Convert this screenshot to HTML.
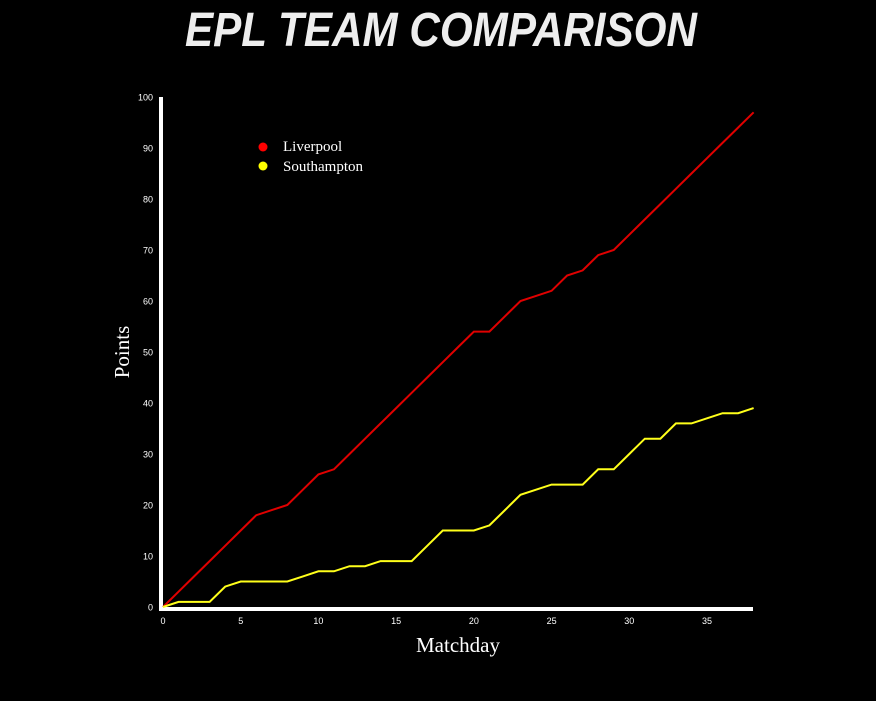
<!DOCTYPE html>
<html><head><meta charset="utf-8"><style>
html,body{margin:0;padding:0;background:#000;width:876px;height:701px;overflow:hidden}
svg{display:block}
</style></head><body>
<svg id="chart" width="876" height="701" xmlns="http://www.w3.org/2000/svg">
<text x="441" y="46" text-anchor="middle" fill="#eeeeee" font-family="Liberation Sans, sans-serif" font-weight="bold" font-style="italic" font-size="48" textLength="512" lengthAdjust="spacingAndGlyphs">EPL TEAM COMPARISON</text>
<g id="axes"></g>
<g id="lines"></g>
<g>
<circle cx="263" cy="147" r="4.5" fill="#ff0000"/>
<text x="283" y="151" fill="#fff" font-family="Liberation Serif, serif" font-size="15">Liverpool</text>
<circle cx="263" cy="166" r="4.5" fill="#ffff00"/>
<text x="283" y="171" fill="#fff" font-family="Liberation Serif, serif" font-size="15">Southampton</text>
</g>
<text transform="translate(129,352) rotate(-90)" text-anchor="middle" fill="#fff" font-family="Liberation Serif, serif" font-size="21">Points</text>
<text x="458" y="652" text-anchor="middle" fill="#fff" font-family="Liberation Serif, serif" font-size="21">Matchday</text>
</svg>
<script>
const matchdays = Array.from({length:39},(_,i)=>i);
const liverpool = [0,3,6,9,12,15,18,19,20,23,26,27,30,33,36,39,42,45,48,51,54,54,57,60,61,62,65,66,69,70,73,76,79,82,85,88,91,94,97];
const southampton = [0,1,1,1,4,5,5,5,5,6,7,7,8,8,9,9,9,12,15,15,15,16,19,22,23,24,24,24,27,27,30,33,33,36,36,37,38,38,39];
const xTicks = [0,5,10,15,20,25,30,35];
const yTicks = [0,10,20,30,40,50,60,70,80,90,100];
const NS="http://www.w3.org/2000/svg";
const x = v => 163 + v*(707-163)/35;
const y = v => 607 - v*5.1;
const axes=document.getElementById('axes'), lines=document.getElementById('lines');
function mk(tag,attrs,parent){const e=document.createElementNS(NS,tag);for(const k in attrs)e.setAttribute(k,attrs[k]);parent.appendChild(e);return e;}
let ya=mk('line',{x1:161,y1:97,x2:161,y2:611,stroke:'#fff','stroke-width':4},axes);


let xa=mk('line',{x1:159,y1:609,x2:753,y2:609,stroke:'#fff','stroke-width':4},axes);


yTicks.forEach(t=>{
  const e=mk('text',{x:153,y:y(t)+3.5,'text-anchor':'end',fill:'#fff','font-family':'Liberation Sans, sans-serif','font-size':9},axes);
  e.textContent=t;
  
  
});
xTicks.forEach(t=>{
  const e=mk('text',{x:x(t),y:624,'text-anchor':'middle',fill:'#fff','font-family':'Liberation Sans, sans-serif','font-size':9},axes);
  e.textContent=t;
  
  
});
function path(data,color,name){
  const d=data.map((v,i)=>(i?'L':'M')+x(matchdays[i])+','+y(v)).join('');
  const p=mk('path',{d:d,fill:'none',stroke:color,'stroke-width':2},lines);
  
  
}
path(liverpool,'#e00000','liverpool-line');
path(southampton,'#ffff1a','southampton-line');
</script>
</body></html>
